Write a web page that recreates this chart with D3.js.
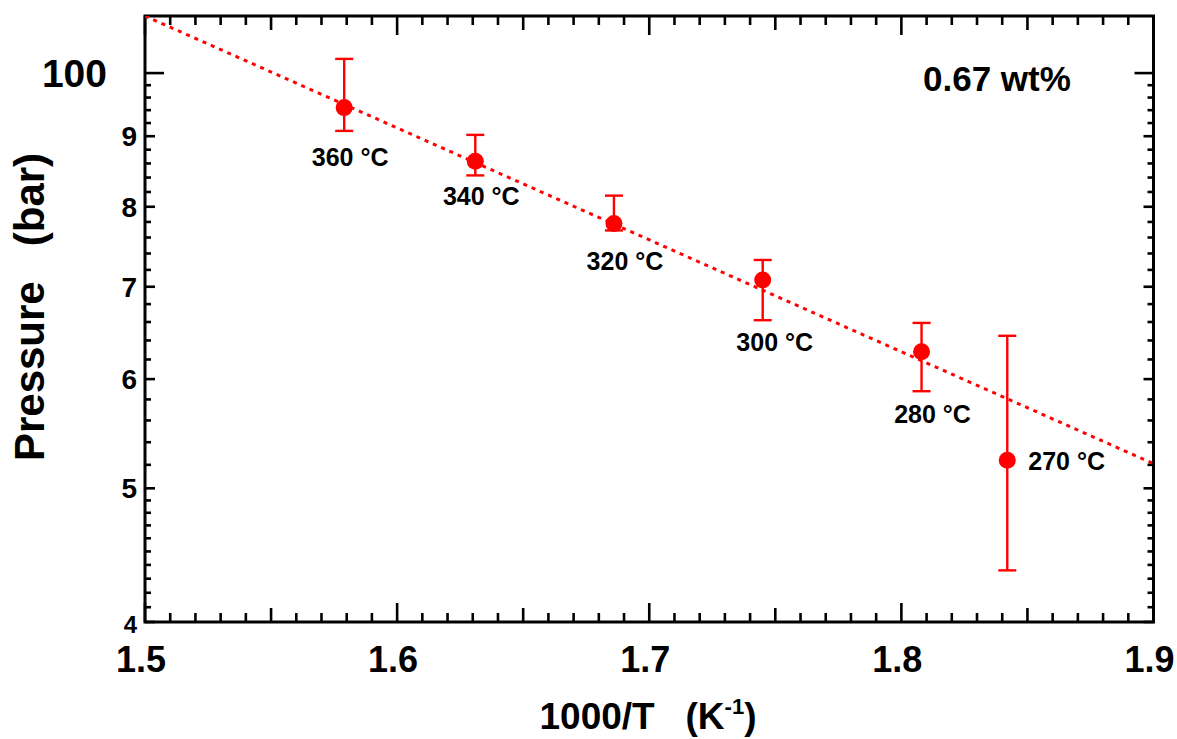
<!DOCTYPE html>
<html>
<head>
<meta charset="utf-8">
<script src="https://cdn.jsdelivr.net/npm/d3@7"></script>
<style>
  body { margin: 0; background: #fff; }
  text { font-family: "Liberation Sans", Arial, sans-serif; font-weight: bold; }
</style>
</head>
<body>
<svg id="chart" width="1177" height="739"></svg>
<script>
// data
const tempLabels = ['360 °C', '340 °C', '320 °C', '300 °C', '280 °C', '270 °C']
const invT = [1.579, 1.631, 1.686, 1.745, 1.808, 1.842]
const pressure = [94.4, 86.3, 77.8, 70.8, 62.8, 52.4]
const errLow = [90.8, 84.3, 76.9, 66.2, 58.8, 43.6]
const errHigh = [102.4, 90.2, 81.5, 73.2, 65.9, 64.5]
const fitX = [1.5, 1.9]
const fitP = [110, 52.1]
const xTickLabels = ['1.5', '1.6', '1.7', '1.8', '1.9']
const yTickValues = [100, 90, 80, 70, 60, 50, 40]
const yTickLabels = ['100', '9', '8', '7', '6', '5', '4']

const width = 1177, height = 739
const margin = {left: 145, right: 23.5, top: 16, bottom: 117}
const red = '#ff0000'

const svg = d3.select('#chart')

const x = d3.scaleLinear().domain([1.5, 1.9]).range([margin.left, width - margin.right])
const y = d3.scaleLog().domain([40, 110]).range([height - margin.bottom, margin.top])

const x0 = x.range()[0], x1 = x.range()[1]
const y0 = y.range()[0], y1 = y.range()[1]

// ---- ticks ----
const ticks = svg.append('g').attr('stroke', '#000').attr('stroke-width', 2.6)

const xMinor = d3.range(150, 191).map(d => d / 100)
xMinor.forEach((v, i) => {
  const len = i % 10 === 0 ? 19 : (i % 5 === 0 ? 14 : 9)
  ticks.append('line').attr('x1', x(v)).attr('x2', x(v)).attr('y1', y0).attr('y2', y0 - len)
  ticks.append('line').attr('x1', x(v)).attr('x2', x(v)).attr('y1', y1).attr('y2', y1 + len)
})

const yMinor = d3.range(41, 50).concat(d3.range(52, 100, 2).filter(d => d % 10 !== 0))
const yTicksAll = yMinor.map(v => ({v, len: 6}))
  .concat(yTickValues.map(v => ({v, len: v === 100 ? 19 : 10})))
yTicksAll.forEach(t => {
  ticks.append('line').attr('x1', x0).attr('x2', x0 + t.len).attr('y1', y(t.v)).attr('y2', y(t.v))
  ticks.append('line').attr('x1', x1).attr('x2', x1 - t.len).attr('y1', y(t.v)).attr('y2', y(t.v))
})

// frame
svg.append('rect')
  .attr('x', x0).attr('y', y1)
  .attr('width', x1 - x0).attr('height', y0 - y1)
  .attr('fill', 'none').attr('stroke', '#000').attr('stroke-width', 3)

// ---- tick labels ----
xTickLabels.forEach(l => {
  svg.append('text')
    .attr('x', x(+l) - 4).attr('y', y0 + 50)
    .attr('text-anchor', 'middle')
    .attr('font-size', 36)
    .text(l)
})

yTickValues.forEach((v, i) => {
  const fs = v === 100 ? 39 : (v === 40 ? 24 : 28)
  const off = v === 100 ? 38 : 8
  svg.append('text')
    .attr('x', x0 - off).attr('y', y(v) + fs * 0.358 + (v === 40 ? 2 : 0))
    .attr('text-anchor', 'end')
    .attr('font-size', fs)
    .text(yTickLabels[i])
})

// ---- axis titles ----
const xt = svg.append('text')
  .attr('x', 648).attr('y', 729)
  .attr('text-anchor', 'middle')
  .attr('font-size', 37)
xt.append('tspan').text('1000/T\u00a0\u00a0\u00a0(K')
xt.append('tspan').attr('font-size', 22).attr('dy', -15).text('-1')
xt.append('tspan').attr('dy', 15).text(')')

svg.append('text')
  .attr('transform', `translate(44, 307) rotate(-90)`)
  .attr('text-anchor', 'middle')
  .attr('font-size', 42)
  .text('Pressure\u00a0\u00a0\u00a0(bar)')

svg.append('text')
  .attr('x', 923).attr('y', 91)
  .attr('font-size', 35)
  .text('0.67 wt%')

// ---- fit line ----
svg.append('clipPath').attr('id', 'plot-clip')
  .append('rect').attr('x', x0).attr('y', y1).attr('width', x1 - x0).attr('height', y0 - y1)

svg.append('path')
  .datum(fitX.map((d, i) => [d, fitP[i]]))
  .attr('clip-path', 'url(#plot-clip)')
  .attr('d', d3.line().x(d => x(d[0])).y(d => y(d[1])))
  .attr('fill', 'none')
  .attr('stroke', red)
  .attr('stroke-width', 3)
  .attr('stroke-dasharray', '4,5')

// ---- error bars + points ----
const pts = svg.append('g')
const capW = 9
invT.forEach((t, i) => {
  const cx = x(t)
  const g = pts.append('g').attr('stroke', red).attr('stroke-width', 2.4)
  g.append('line').attr('x1', cx).attr('x2', cx).attr('y1', y(errLow[i])).attr('y2', y(errHigh[i]))
  g.append('line').attr('x1', cx - capW).attr('x2', cx + capW).attr('y1', y(errLow[i])).attr('y2', y(errLow[i]))
  g.append('line').attr('x1', cx - capW).attr('x2', cx + capW).attr('y1', y(errHigh[i])).attr('y2', y(errHigh[i]))
  pts.append('circle').attr('cx', cx).attr('cy', y(pressure[i])).attr('r', 8.5).attr('fill', red)
})

// temperature labels, placed around each point
const labelPlace = [
  {dx: 6, dy: 58, anchor: 'middle'},
  {dx: 6, dy: 44, anchor: 'middle'},
  {dx: 11, dy: 47, anchor: 'middle'},
  {dx: 12, dy: 71, anchor: 'middle'},
  {dx: 11, dy: 71, anchor: 'middle'},
  {dx: 21, dy: 10, anchor: 'start'}
]
tempLabels.forEach((l, i) => {
  const p = labelPlace[i]
  svg.append('text')
    .attr('x', x(invT[i]) + p.dx).attr('y', y(pressure[i]) + p.dy)
    .attr('text-anchor', p.anchor)
    .attr('font-size', 25)
    .text(l)
})
</script>
</body>
</html>
